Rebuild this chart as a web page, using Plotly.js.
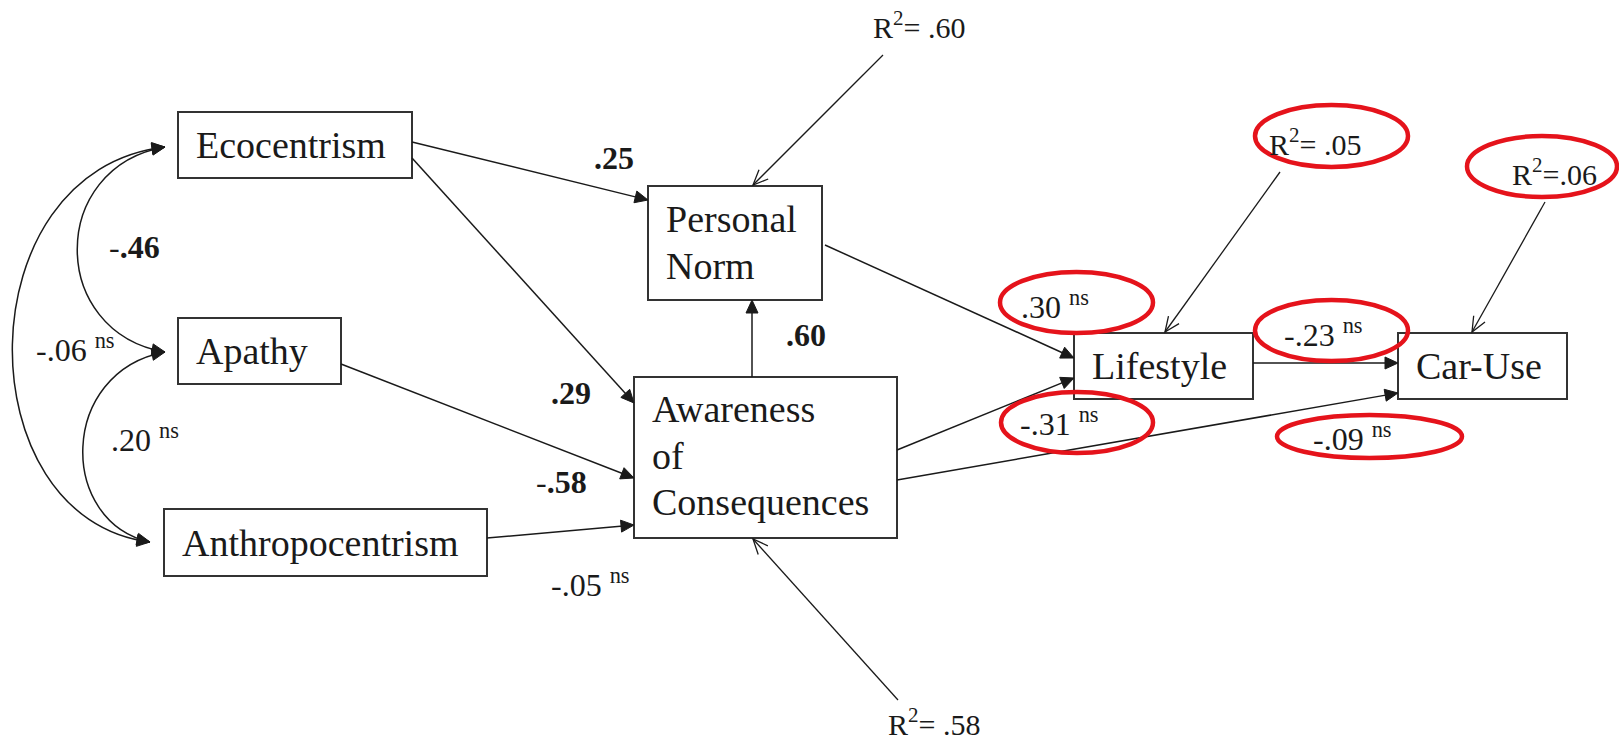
<!DOCTYPE html>
<html><head><meta charset="utf-8">
<script src="https://cdn.plot.ly/plotly-3.0.1.min.js"></script>
<style>html,body{margin:0;padding:0;background:#fff;overflow:hidden}</style>
</head><body>
<div id="chart" style="width:1619px;height:743px"></div>
<script>
// ================= DATA =================
const nodeNames = ["Ecocentrism", "Apathy", "Anthropocentrism", "Personal Norm",
                   "Awareness of Consequences", "Lifestyle", "Car-Use"];
// structural paths (from -> to) with standardized coefficients
const pathFrom = [0, 0, 1, 2, 4, 3, 4, 5, 4];
const pathTo   = [3, 4, 4, 4, 3, 5, 5, 6, 6];
const pathCoef = [".25", ".29", "-.58", "-.05", ".60", ".30", "-.31", "-.23", "-.09"];
const pathSig  = [true, true, true, false, true, false, false, false, false];
// correlations between exogenous variables
const covFrom = [0, 1, 0];
const covTo   = [1, 2, 2];
const covCoef = ["-.46", ".20", "-.06"];
const covSig  = [true, false, false];
// explained variance
const r2Node  = [3, 4, 5, 6];
const r2Value = [".60", ".58", ".05", ".06"];

// ================= GEOMETRY / STYLE (pixel space) =================
const G = {
  box: [[178,112,412,178],[178,318,341,384],[164,509,487,576],[648,186,822,300],
        [634,377,897,538],[1074,333,1253,399],[1398,333,1567,399]],
  wrap: [false,false,false,true,true,false,false],
  firstLineY: [145,351,542.5,219,409,366,366],
  lineStep: 46.5,
  pad: 17,
  pathLine: [[[412,142],[648,200]],[[412,158],[634,403]],[[341,364],[634,478]],
             [[487,538],[634,525]],[[752,377],[752,300]],[[825,245],[1074,358]],
             [[897,450],[1074,378]],[[1253,363],[1398,363]],[[897,480],[1398,393]]],
  pathLabel: [[593,158],[550,393],[535,482],[550,583],[785,335],[1020,305],
              [1019,422],[1283,333],[1312,437]],
  cov: [[[165,147],[48,167],[48,332],[165,352]],
        [[165,352],[58,372],[58,522],[150,542]],
        [[165,147],[-36,170],[-36,519],[150,542]]],
  covLabel: [[108,247],[110,438],[35,348]],
  r2Line: [[[883,55],[753,185]],[[898,700],[753,539]],[[1280,172],[1165,332]],[[1545,202],[1472,332]]],
  r2Label: [[872,25,'middle'],[887,742,'bottom'],[1268,142,'middle'],[1511,172,'middle']],
  r2Space: [true,true,true,false],
  ellipses: [[1255,105,1408,167],[1467,136,1617,197],[1000,272,1153,333],
             [1255,300,1408,361],[1001,392,1153,453],[1277,415,1462,458]]
};
const FONT = "Liberation Serif, Times New Roman, serif";
const INK = "#1a1a1a";
const RED = "#e5131b";

const shapes = [], annotations = [];

function unit(ax, ay, bx, by){ const dx=bx-ax, dy=by-ay, d=Math.hypot(dx,dy); return [dx/d, dy/d]; }
function filledHead(tip, dir, L, W){
  const [ux,uy]=dir, bx=tip[0]-ux*L, by=tip[1]-uy*L, px=-uy*W, py=ux*W;
  shapes.push({type:'path', xref:'x', yref:'y', layer:'above',
    path:`M${tip[0]},${tip[1]} L${bx+px},${by+py} L${bx-px},${by-py} Z`,
    fillcolor:INK, line:{color:INK, width:1}});
}
function openHead(tip, dir, L, W){
  const [ux,uy]=dir, bx=tip[0]-ux*L, by=tip[1]-uy*L, px=-uy*W, py=ux*W;
  shapes.push({type:'path', xref:'x', yref:'y', layer:'above',
    path:`M${bx+px},${by+py} L${tip[0]},${tip[1]} L${bx-px},${by-py}`,
    line:{color:INK, width:1.3}});
}
function coefText(c, sig){
  if (sig) {
    return c[0]==='-' ? '-<b>'+c.slice(1)+'</b>' : '<b>'+c+'</b>';
  }
  return c + ' <sup>ns</sup>';
}
function label(x, y, text, size, yanchor){
  annotations.push({x:x, y:y, xref:'x', yref:'y', text:text, showarrow:false,
    xanchor:'left', yanchor:yanchor || 'middle', align:'left', borderpad:0,
    font:{family:FONT, size:size, color:INK}});
}

// nodes
nodeNames.forEach((name, i) => {
  const b = G.box[i];
  shapes.push({type:'rect', xref:'x', yref:'y', x0:b[0], y0:b[1], x1:b[2], y1:b[3],
    line:{color:'#333', width:2}, fillcolor:'rgba(0,0,0,0)', layer:'above'});
  const lines = G.wrap[i] ? name.split(' ') : [name];
  lines.forEach((t, k) => label(b[0]+G.pad, G.firstLineY[i] + k*G.lineStep, t, 38));
});

// structural paths
pathFrom.forEach((f, i) => {
  const [a, h] = G.pathLine[i];
  const d = unit(a[0], a[1], h[0], h[1]);
  const L = 13;
  shapes.push({type:'line', xref:'x', yref:'y', x0:a[0], y0:a[1],
    x1:h[0]-d[0]*(L-2), y1:h[1]-d[1]*(L-2), line:{color:INK, width:1.5}});
  filledHead(h, d, L, 6);
  const p = G.pathLabel[i];
  label(p[0], p[1], coefText(pathCoef[i], pathSig[i]), 32);
});

// correlations (double headed curves)
covFrom.forEach((f, i) => {
  const [p0, p1, p2, p3] = G.cov[i];
  shapes.push({type:'path', xref:'x', yref:'y',
    path:`M${p0[0]},${p0[1]} C${p1[0]},${p1[1]} ${p2[0]},${p2[1]} ${p3[0]},${p3[1]}`,
    line:{color:INK, width:1.5}});
  filledHead(p0, unit(p1[0],p1[1],p0[0],p0[1]), 13, 6);
  filledHead(p3, unit(p2[0],p2[1],p3[0],p3[1]), 13, 6);
  const p = G.covLabel[i];
  label(p[0], p[1], coefText(covCoef[i], covSig[i]), 32);
});

// R squared
r2Node.forEach((n, i) => {
  const [a, h] = G.r2Line[i];
  const d = unit(a[0], a[1], h[0], h[1]);
  shapes.push({type:'line', xref:'x', yref:'y', x0:a[0], y0:a[1], x1:h[0], y1:h[1],
    line:{color:INK, width:1.3}});
  openHead(h, d, 15, 6.5);
  const p = G.r2Label[i];
  label(p[0], p[1], 'R<sup>2</sup>=' + (G.r2Space[i] ? ' ' : '') + r2Value[i], 30, p[2]);
});

// red highlight ellipses
G.ellipses.forEach(e => shapes.push({type:'circle', xref:'x', yref:'y',
  x0:e[0], y0:e[1], x1:e[2], y1:e[3], line:{color:RED, width:4.5}, layer:'above'}));

const layout = {
  width:1619, height:743, margin:{l:0, r:0, t:0, b:0},
  paper_bgcolor:'#fff', plot_bgcolor:'#fff', showlegend:false,
  xaxis:{range:[0,1619], visible:false, fixedrange:true},
  yaxis:{range:[743,0], visible:false, fixedrange:true},
  shapes:shapes, annotations:annotations
};
Plotly.newPlot('chart', [{x:[0], y:[0], mode:'markers', marker:{opacity:0}, hoverinfo:'skip'}],
  layout, {staticPlot:true, displayModeBar:false});
</script>
</body></html>
